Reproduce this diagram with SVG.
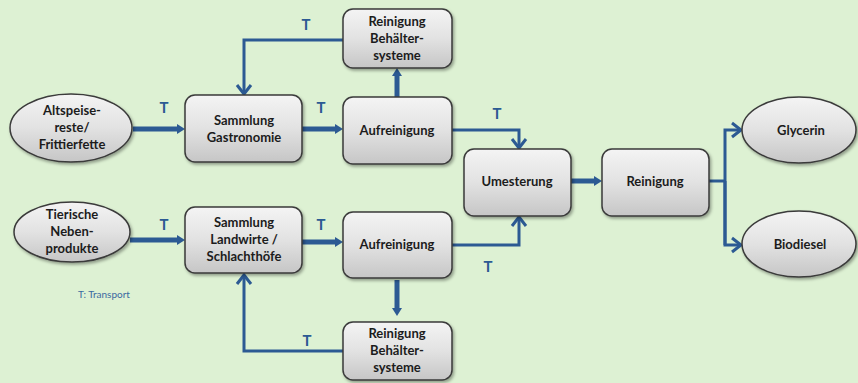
<svg xmlns="http://www.w3.org/2000/svg" width="858" height="383" viewBox="0 0 858 383">
  <defs>
    <linearGradient id="shade" x1="0" y1="0" x2="0" y2="1">
      <stop offset="0" stop-color="#f4f4f4"/>
      <stop offset="0.5" stop-color="#e2e2e2"/>
      <stop offset="1" stop-color="#c6c6c6"/>
    </linearGradient>
    <filter id="shadow" x="-10%" y="-10%" width="125%" height="130%">
      <feDropShadow dx="1.5" dy="2" stdDeviation="1.5" flood-color="#000" flood-opacity="0.35"/>
    </filter>
    <!-- solid head for the main material flow -->
    <marker id="head" viewBox="0 0 8 10" refX="2" refY="5" markerWidth="8" markerHeight="10" markerUnits="userSpaceOnUse" orient="auto">
      <path d="M0,0 L8,5 L0,10 z" fill="#2c5a93"/>
    </marker>
    <!-- open head for transport returns and product split -->
    <marker id="open" viewBox="-1 -9 13 18" refX="9" refY="0" markerWidth="13" markerHeight="18" markerUnits="userSpaceOnUse" orient="auto">
      <path d="M0,-7 L9,0 L0,7" fill="none" stroke="#2c5a93" stroke-width="3" stroke-linejoin="miter"/>
    </marker>
  </defs>
  <style>
    .box { fill: url(#shade); stroke: #3a3a3a; stroke-width: 1.5; filter: url(#shadow); }
    .lbl { font-family: Lato, "Open Sans", sans-serif; font-size: 13px; font-weight: bold; fill: #1c1c1c; text-anchor: middle; }
    .t { font-family: Lato, "Open Sans", sans-serif; font-size: 15px; font-weight: bold; fill: #2c5a93; text-anchor: middle; }
    .note { font-family: Lato, "Open Sans", sans-serif; font-size: 10px; fill: #3a6aa0; }
    .thick { fill: none; stroke: #2c5a93; stroke-width: 5; marker-end: url(#head); }
    .thin { fill: none; stroke: #2c5a93; stroke-width: 3; marker-end: url(#open); }
    .plain { fill: none; stroke: #2c5a93; stroke-width: 3; }
  </style>

  <rect x="0" y="0" width="858" height="383" fill="#ddf1d3"/>

  <!-- connectors -->
  <g id="connectors">
    <path class="thick" d="M133,129 L179,129"/>
    <path class="thick" d="M302,129 L337,129"/>
    <path class="thick" d="M397,97 L397,74"/>
    <path class="thin" d="M343,40 L244,40 L244,94"/>
    <path class="thin" d="M452,130 L519,130 L519,148"/>
    <path class="thick" d="M130,240 L179,240"/>
    <path class="thick" d="M302,242 L337,242"/>
    <path class="thick" d="M397,280 L397,310"/>
    <path class="thin" d="M343,351 L244,351 L244,275"/>
    <path class="thin" d="M452,245 L519,245 L519,217"/>
    <path class="thick" d="M571,181 L596,181"/>
    <path class="plain" d="M709,181 L725,181"/>
    <path class="thin" d="M725,245 L725,130 L741,130"/>
    <path class="thin" d="M725,181 L725,245 L741,245"/>
  </g>

  <!-- transport labels -->
  <g id="transport-labels">
    <text class="t" x="164" y="113">T</text>
    <text class="t" x="321" y="113">T</text>
    <text class="t" x="306" y="30">T</text>
    <text class="t" x="497" y="119">T</text>
    <text class="t" x="164" y="230">T</text>
    <text class="t" x="321" y="230">T</text>
    <text class="t" x="488" y="272">T</text>
    <text class="t" x="307" y="346">T</text>
    <text class="note" x="78" y="298">T: Transport</text>
  </g>

  <g id="altspeisereste">
    <ellipse class="box" cx="71" cy="128" rx="61" ry="34"/>
    <text class="lbl" x="72" y="115">Altspeise-</text>
    <text class="lbl" x="72" y="132">reste/</text>
    <text class="lbl" x="72" y="149">Frittierfette</text>
  </g>

  <g id="nebenprodukte">
    <ellipse class="box" cx="72" cy="232" rx="58" ry="30"/>
    <text class="lbl" x="72" y="219">Tierische</text>
    <text class="lbl" x="72" y="236">Neben-</text>
    <text class="lbl" x="72" y="253">produkte</text>
  </g>

  <g id="sammlung-gastronomie">
    <rect class="box" x="185" y="95" width="117" height="67" rx="10"/>
    <text class="lbl" x="244" y="125">Sammlung</text>
    <text class="lbl" x="244" y="142">Gastronomie</text>
  </g>

  <g id="sammlung-landwirte">
    <rect class="box" x="185" y="207" width="117" height="66" rx="10"/>
    <text class="lbl" x="244" y="227">Sammlung</text>
    <text class="lbl" x="244" y="244">Landwirte /</text>
    <text class="lbl" x="244" y="261">Schlachthöfe</text>
  </g>

  <g id="reinigung-behaelter-oben">
    <rect class="box" x="343" y="9" width="109" height="59" rx="10"/>
    <text class="lbl" x="397" y="26">Reinigung</text>
    <text class="lbl" x="397" y="43">Behälter-</text>
    <text class="lbl" x="397" y="60">systeme</text>
  </g>

  <g id="aufreinigung-oben">
    <rect class="box" x="343" y="97" width="109" height="67" rx="10"/>
    <text class="lbl" x="397" y="135">Aufreinigung</text>
  </g>

  <g id="aufreinigung-unten">
    <rect class="box" x="343" y="212" width="109" height="66" rx="10"/>
    <text class="lbl" x="397" y="249">Aufreinigung</text>
  </g>

  <g id="reinigung-behaelter-unten">
    <rect class="box" x="343" y="322" width="109" height="58" rx="10"/>
    <text class="lbl" x="397" y="338">Reinigung</text>
    <text class="lbl" x="397" y="355">Behälter-</text>
    <text class="lbl" x="397" y="372">systeme</text>
  </g>

  <g id="umesterung">
    <rect class="box" x="464" y="149" width="107" height="67" rx="10"/>
    <text class="lbl" x="517" y="186">Umesterung</text>
  </g>

  <g id="reinigung">
    <rect class="box" x="602" y="149" width="107" height="67" rx="10"/>
    <text class="lbl" x="655" y="186">Reinigung</text>
  </g>

  <g id="glycerin">
    <ellipse class="box" cx="799" cy="130" rx="57" ry="33"/>
    <text class="lbl" x="801" y="135">Glycerin</text>
  </g>

  <g id="biodiesel">
    <ellipse class="box" cx="799" cy="244" rx="57" ry="33"/>
    <text class="lbl" x="800" y="249">Biodiesel</text>
  </g>
</svg>
